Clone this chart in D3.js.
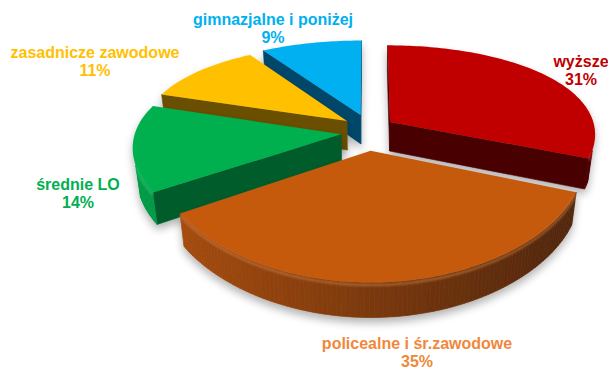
<!DOCTYPE html>
<html>
<head>
<meta charset="utf-8">
<script src="https://cdn.jsdelivr.net/npm/d3@7"></script>
<style>
  html, body { margin: 0; padding: 0; background: #ffffff; }
  svg { display: block; }
</style>
</head>
<body>
<svg id="chart" width="608" height="371"></svg>
<script>
// Education level shares (percent)
const categories = ["wyższe", "policealne i śr.zawodowe", "średnie LO", "zasadnicze zawodowe", "gimnazjalne i poniżej"];
const shares = [31, 35, 14, 11, 9];

// Styling per slice
const topColors   = ["#C00000", "#C55A11", "#00B050", "#FFC000", "#00B0F0"];
const sideColors  = ["#4A0000", "#4E2508", "#005C29", "#6A5000", "#00476A"];
const labelColors = ["#C00000", "#F0883C", "#00B050", "#FFC000", "#00B0F0"];
// label anchor (centre x, first baseline y)
const labelAnchors = [[581, 67], [417, 349], [78, 190], [95, 58], [273, 25]];

// 3D pie projection parameters (unit radius pie, perspective view from front-above)
const CX = 368, CY = 161.5;   // projected pie centre
const A = 202;                // horizontal scale
const AS = 100;               // vertical scale of the ground plane
const AC = 29;                // height of the pie body on screen
const PX = 0.12, PY = 0.2, Q = 0.019; // perspective strength
const EXPLODE = 0.131, KV = 1.45;
const CAM = [0, -4.29 * 0.857, 4.29 * 0.515];

function proj(u, v, z) {
  const wx = 1 + PX * v - Q * z;
  const wy = 1 + PY * v - Q * z;
  return [CX + A * u / wx, CY - (AS * v + AC * z) / wy];
}

const svg = d3.select("#chart");
const defs = svg.append("defs");
const f = defs.append("filter").attr("id", "shadow")
  .attr("x", "-20%").attr("y", "-20%").attr("width", "140%").attr("height", "150%");
f.append("feGaussianBlur").attr("in", "SourceAlpha").attr("stdDeviation", 4).attr("result", "b");
f.append("feOffset").attr("in", "b").attr("dx", 0).attr("dy", 5).attr("result", "o");
f.append("feComponentTransfer").attr("in", "o").attr("result", "s")
  .append("feFuncA").attr("type", "linear").attr("slope", 0.3);
const fm = f.append("feMerge");
fm.append("feMergeNode").attr("in", "s");
fm.append("feMergeNode").attr("in", "SourceGraphic");

const soft = defs.append("filter").attr("id", "soft");
soft.append("feGaussianBlur").attr("stdDeviation", 1.2);

const arcs = d3.pie().sort(null).value(d => d)(shares);

const line = d3.line();
const poly = pts => line(pts) + "Z";

function facing(normal, p) {
  const d = [CAM[0] - p[0], CAM[1] - p[1], CAM[2] - p[2]];
  return normal[0] * d[0] + normal[1] * d[1] + normal[2] * d[2] > 0;
}

const slices = arcs.map((a, i) => {
  const m = (a.startAngle + a.endAngle) / 2;
  const ou = EXPLODE * Math.sin(m), ov = KV * EXPLODE * Math.cos(m);
  return { a, i, m, ou, ov, depth: ov + 0.6 * Math.cos(m) };
}).sort((p, q) => q.depth - p.depth);

const light = d3.scaleLinear().domain([0, 1]).range([0, 0.75]);

slices.forEach(s => {
  const { a, i, ou, ov } = s;
  const g = svg.append("g").attr("filter", "url(#shadow)");
  const n = Math.max(8, Math.ceil((a.endAngle - a.startAngle) / 0.02));
  const angles = d3.range(n + 1).map(k => a.startAngle + (a.endAngle - a.startAngle) * k / n);
  const rim = angles.map(t => [ou + Math.sin(t), ov + Math.cos(t)]);
  const P = (q, z) => proj(q[0], q[1], z);
  const V = [ou, ov];

  // radial walls
  const a0 = a.startAngle, a1 = a.endAngle;
  const walls = [
    { n: [-Math.cos(a0), Math.sin(a0), 0], q: rim[0] },
    { n: [Math.cos(a1), -Math.sin(a1), 0], q: rim[n] }
  ];
  walls.forEach(w => {
    const mid = [(V[0] + w.q[0]) / 2, (V[1] + w.q[1]) / 2, 0.08];
    if (!facing(w.n, mid)) return;
    g.append("path")
      .attr("d", poly([P(V, 0), P(w.q, 0), P(w.q, 1), P(V, 1)]))
      .attr("fill", sideColors[i]).attr("stroke", sideColors[i]).attr("stroke-width", 0.6);
  });

  // curved outer wall
  const lit = [];
  for (let k = 0; k < n; k++) {
    const tm = (angles[k] + angles[k + 1]) / 2;
    const nm = [Math.sin(tm), Math.cos(tm), 0];
    const pm = [ou + Math.sin(tm), ov + Math.cos(tm), 0.08];
    if (!facing(nm, pm)) continue;
    const t = light(Math.pow(0.5 + 0.5 * Math.cos(tm - 255 * Math.PI / 180), 1.5));
    const col = d3.interpolateRgb(sideColors[i], topColors[i])(t);
    g.append("path")
      .attr("d", poly([P(rim[k], 0), P(rim[k + 1], 0), P(rim[k + 1], 1), P(rim[k], 1)]))
      .attr("fill", col).attr("stroke", col).attr("stroke-width", 0.7);
    lit.push(k);
  }

  // top face
  g.append("path")
    .attr("d", poly([P(V, 1)].concat(rim.map(q => P(q, 1)))))
    .attr("fill", topColors[i]);

  // rounded rim highlight along the visible front edge
  if (lit.length) {
    const seg = [];
    lit.forEach(k => { seg.push(P(rim[k], 0.93)); });
    seg.push(P(rim[lit[lit.length - 1] + 1], 0.93));
    g.append("path")
      .attr("d", line(seg))
      .attr("fill", "none")
      .attr("stroke", d3.interpolateRgb(topColors[i], "#ffffff")(0.25))
      .attr("stroke-width", 2.2)
      .attr("stroke-opacity", 0.6)
      .attr("filter", "url(#soft)");
  }
});

// labels
const lbl = svg.append("g")
  .attr("font-family", "'Liberation Sans', Arial, sans-serif")
  .attr("font-weight", "bold")
  .attr("font-size", "16px")
  .attr("text-anchor", "middle");

categories.forEach((c, i) => {
  const [x, y] = labelAnchors[i];
  const t = lbl.append("text").attr("fill", labelColors[i]);
  t.append("tspan").attr("x", x).attr("y", y).text(c);
  t.append("tspan").attr("x", x).attr("y", y + 18).text(shares[i] + "%");
});
</script>
</body>
</html>
